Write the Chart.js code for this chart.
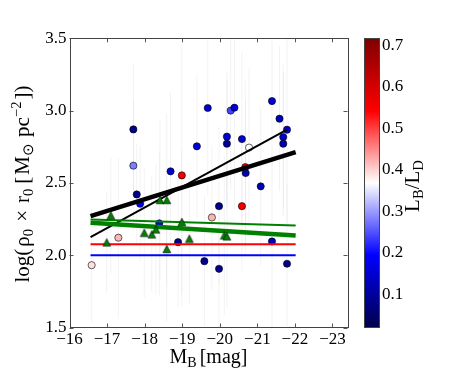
<!DOCTYPE html>
<html>
<head>
<meta charset="utf-8">
<script src="https://cdn.jsdelivr.net/npm/chart.js@4.4.0/dist/chart.umd.min.js"></script>
<style>
  html, body { margin: 0; padding: 0; background: #fff; }
  #wrap { position: relative; width: 463px; height: 386px; overflow: hidden; }
  #main { position: absolute; left: 0; top: 0; }
  #cbar { position: absolute; left: 350px; top: 0; }
</style>
</head>
<body>
<div id="wrap">
  <canvas id="main" width="463" height="386"></canvas>
  <canvas id="cbar" width="113" height="386"></canvas>
</div>
<script>
// ---- data ----
// circles: M_B, log(rho0*r0), L_B/L_D (colour)
const circMag = [-17.70, -17.70, -18.69, -17.79, -17.88, -18.39, -19.68, -20.29, -20.39, -20.19, -20.19,
                 -19.39, -20.59, -20.78, -18.99, -20.68, -20.69, -21.09, -21.39, -21.59, -21.79, -21.69,
                 -21.69, -17.30, -16.59, -18.89, -19.98, -20.59, -19.79, -19.59, -19.98, -21.39, -21.79];
const circLogRho = [2.870, 2.619, 2.580, 2.420, 2.356, 2.220, 3.018, 3.000, 3.020, 2.820, 2.771,
                    2.753, 2.803, 2.744, 2.552, 2.609, 2.568, 2.476, 3.066, 2.944, 2.868, 2.817,
                    2.771, 2.121, 1.931, 2.090, 2.339, 2.339, 2.261, 1.959, 1.906, 2.095, 1.941];
const circRatio = [0.08, 0.28, 0.15, 0.08, 0.18, 0.17, 0.15, 0.24, 0.15, 0.15, 0.10,
                   0.15, 0.15, 0.37, 0.56, 0.58, 0.12, 0.12, 0.15, 0.12, 0.15, 0.15,
                   0.12, 0.42, 0.39, 0.08, 0.08, 0.56, 0.42, 0.08, 0.08, 0.13, 0.08];
const circErr = [0.45, 0.45, 0.55, 0.35, 0.40, 0.50, 0.60, 0.55, 0.70, 0.45, 0.45,
                 0.50, 0.60, 0.55, 0.90, 0.60, 0.50, 0.55, 0.45, 0.50, 0.65, 0.50,
                 0.50, 0.55, 0.40, 0.45, 0.55, 0.45, 0.50, 0.45, 0.40, 0.60, 0.55];
// triangles
const triMag = [-17.10, -16.99, -17.99, -18.19, -18.30, -18.59, -18.41, -18.59, -18.99, -19.19, -20.12, -20.19];
const triLogRho = [2.275, 2.088, 2.155, 2.144, 2.178, 2.043, 2.382, 2.382, 2.230, 2.114, 2.137, 2.130];
const triErr = [0.40, 0.35, 0.45, 0.40, 0.45, 0.50, 0.55, 0.60, 0.50, 0.45, 0.55, 0.50];
// fitted / reference lines (endpoints)
const fitMag = [-16.56, -22.02];
const blackThick = [2.270, 2.713];
const blackThinMag = [-16.56, -21.79];
const blackThin = [2.125, 2.868];
const greenThick = [2.225, 2.137];
const greenThin = [2.247, 2.206];
const redLevel = [2.075, 2.075];
const blueLevel = [2.0, 2.0];
// axes
const xTicks = [-16, -17, -18, -19, -20, -21, -22, -23];
const yTicks = [1.5, 2.0, 2.5, 3.0, 3.5];
const cbTicks = [0.1, 0.2, 0.3, 0.4, 0.5, 0.6, 0.7];
const cbMin = 0.02, cbMax = 0.717;

const seismic = [[0, [0, 0, 77]], [0.25, [0, 0, 255]], [0.5, [255, 255, 255]], [0.75, [255, 0, 0]], [1, [128, 0, 0]]];
function ratioColor(v) {
  let t = (v - cbMin) / (cbMax - cbMin);
  t = Math.max(0, Math.min(1, t));
  for (let i = 0; i < seismic.length - 1; i++) {
    const a = seismic[i], b = seismic[i + 1];
    if (t <= b[0]) {
      const f = (t - a[0]) / (b[0] - a[0]);
      const c = a[1].map((x, k) => Math.round(x + (b[1][k] - x) * f));
      return 'rgb(' + c.join(',') + ')';
    }
  }
  return 'rgb(128,0,0)';
}

function pairs(xs, ys) { return xs.map((x, i) => ({x: x, y: ys[i]})); }

function errSegments(xs, ys, es) {
  const out = [];
  xs.forEach((x, i) => {
    out.push({x: x, y: ys[i] - es[i]});
    out.push({x: x, y: ys[i] + es[i]});
    out.push({x: x, y: null});
  });
  return out;
}

// matplotlib-like '^' marker
const tri = document.createElement('canvas');
tri.width = 10; tri.height = 10;
(function () {
  const c = tri.getContext('2d');
  c.beginPath();
  c.moveTo(5, 1.2); c.lineTo(8.9, 8.8); c.lineTo(1.1, 8.8); c.closePath();
  c.fillStyle = '#008000'; c.fill();
  c.lineWidth = 0.6; c.strokeStyle = '#000'; c.stroke();
})();

const serif = "'Liberation Serif', 'Times New Roman', serif";
Chart.defaults.font.family = serif;

// text with sub/superscripts
function richWidth(ctx, segs, size) {
  let w = 0;
  segs.forEach(s => { ctx.font = (size * (s.s || 1)) + 'px ' + serif; w += ctx.measureText(s.t).width + (s.gap || 0); });
  return w;
}
function drawRich(ctx, segs, cx, cy, size, rot) {
  ctx.save();
  ctx.translate(cx, cy);
  ctx.rotate(rot || 0);
  ctx.fillStyle = '#000';
  ctx.textBaseline = 'alphabetic';
  let x = -richWidth(ctx, segs, size) / 2;
  segs.forEach(s => {
    ctx.font = (size * (s.s || 1)) + 'px ' + serif;
    ctx.fillText(s.t, x, size * 0.33 + size * (s.dy || 0));
    x += ctx.measureText(s.t).width + (s.gap || 0);
  });
  ctx.restore();
}

const boxPlugin = {
  id: 'box',
  afterDraw(chart) {
    const ctx = chart.ctx, a = chart.chartArea;
    const xs = chart.scales.x, ys = chart.scales.y;
    ctx.save();
    ctx.strokeStyle = '#555';
    ctx.lineWidth = 1;
    ctx.beginPath();
    xTicks.forEach(v => {
      const p = Math.round(xs.getPixelForValue(v)) + 0.5;
      ctx.moveTo(p, a.bottom); ctx.lineTo(p, a.bottom - 4);
      ctx.moveTo(p, a.top); ctx.lineTo(p, a.top + 4);
    });
    yTicks.forEach(v => {
      const p = Math.round(ys.getPixelForValue(v)) + 0.5;
      ctx.moveTo(a.left, p); ctx.lineTo(a.left + 4, p);
      ctx.moveTo(a.right, p); ctx.lineTo(a.right - 4, p);
    });
    ctx.stroke();
    ctx.strokeStyle = '#444';
    ctx.strokeRect(Math.round(a.left) + 0.5, Math.round(a.top) + 0.5, Math.round(a.right - a.left), Math.round(a.bottom - a.top));
    // axis titles
    drawRich(ctx, [
      {t: 'M'}, {t: 'B', s: 0.7, dy: 0.2, gap: 3}, {t: '[mag]'}
    ], (a.left + a.right) / 2, 356, 20, 0);
    drawRich(ctx, [
      {t: 'log(', gap: 2}, {t: 'ρ'}, {t: '0', s: 0.7, dy: 0.2, gap: 7}, {t: '×', gap: 7},
      {t: 'r'}, {t: '0', s: 0.7, dy: 0.2, gap: 5}, {t: '[', gap: 2}, {t: 'M'}, {t: '⊙', s: 0.7, dy: 0.2, gap: 6},
      {t: 'pc'}, {t: '−2', s: 0.7, dy: -0.38, gap: 2}, {t: '])'}
    ], 22, 184, 21, -Math.PI / 2);
    ctx.restore();
  }
};

const tickFont = {family: serif, size: 17};

new Chart(document.getElementById('main'), {
  type: 'scatter',
  data: {
    datasets: [
      {data: pairs(triMag, triLogRho), pointStyle: tri, pointRadius: 5},
      {data: pairs(fitMag, greenThin), showLine: true, borderColor: '#008000', borderWidth: 2, pointRadius: 0},
      {data: pairs(fitMag, greenThick), showLine: true, borderColor: '#008000', borderWidth: 4.5, pointRadius: 0},
      {data: pairs(blackThinMag, blackThin), showLine: true, borderColor: '#000', borderWidth: 2, pointRadius: 0},
      {data: pairs(fitMag, blackThick), showLine: true, borderColor: '#000', borderWidth: 4.5, pointRadius: 0},
      {data: pairs(fitMag, redLevel), showLine: true, borderColor: '#ff0000', borderWidth: 2, pointRadius: 0},
      {data: pairs(fitMag, blueLevel), showLine: true, borderColor: '#0000ff', borderWidth: 2, pointRadius: 0},
      {data: pairs(circMag, circLogRho), pointRadius: 3.6, borderWidth: 0.6, borderColor: '#000',
       backgroundColor: circRatio.map(ratioColor)},
      {data: errSegments(circMag.concat(triMag), circLogRho.concat(triLogRho), circErr.concat(triErr)),
       showLine: true, spanGaps: false, borderColor: 'rgba(0,0,0,0.05)', borderWidth: 1, pointRadius: 0}
    ]
  },
  options: {
    responsive: false,
    animation: false,
    devicePixelRatio: 1,
    layout: {padding: {left: 0, top: 38.3, right: 115.5, bottom: 0}},
    plugins: {legend: {display: false}, tooltip: {enabled: false}},
    scales: {
      x: {
        type: 'linear', reverse: true, min: -23.4, max: -16,
        grid: {display: false, drawTicks: false}, border: {display: false},
        afterBuildTicks: s => { s.ticks = xTicks.map(v => ({value: v})); },
        afterFit: s => { s.height = 58.5; },
        ticks: {font: tickFont, color: '#000', padding: 2, maxRotation: 0, autoSkip: false,
                callback: v => (v < 0 ? '\u2212' + Math.abs(v) : String(v))}
      },
      y: {
        type: 'linear', min: 1.5, max: 3.5,
        grid: {display: false, drawTicks: false}, border: {display: false},
        afterBuildTicks: s => { s.ticks = yTicks.map(v => ({value: v})); },
        afterFit: s => { s.width = 69.5; },
        ticks: {font: tickFont, color: '#000', padding: 3, callback: v => v.toFixed(1)}
      }
    }
  },
  plugins: [boxPlugin]
});

// ---- colour bar ----
const cbarPlugin = {
  id: 'cbarBox',
  afterDraw(chart) {
    const ctx = chart.ctx, a = chart.chartArea;
    ctx.save();
    ctx.strokeStyle = '#444';
    ctx.lineWidth = 1;
    ctx.strokeRect(Math.round(a.left) + 0.5, Math.round(a.top) + 0.5, Math.round(a.right - a.left), Math.round(a.bottom - a.top));
    drawRich(ctx, [
      {t: 'L'}, {t: 'B', s: 0.7, dy: 0.2}, {t: '/'}, {t: 'L'}, {t: 'D', s: 0.7, dy: 0.2}
    ], 62, 186, 21, -Math.PI / 2);
    ctx.restore();
  }
};

new Chart(document.getElementById('cbar'), {
  type: 'bar',
  data: {
    labels: ['ratio'],
    datasets: [{
      data: [[cbMin, cbMax]],
      barPercentage: 1, categoryPercentage: 1, borderWidth: 0,
      backgroundColor: ctx => {
        const a = ctx.chart.chartArea;
        if (!a) return '#fff';
        const g = ctx.chart.ctx.createLinearGradient(0, a.bottom, 0, a.top);
        seismic.forEach(s => g.addColorStop(s[0], 'rgb(' + s[1].join(',') + ')'));
        return g;
      }
    }]
  },
  options: {
    responsive: false,
    animation: false,
    devicePixelRatio: 1,
    layout: {padding: {left: 14, top: 38.3, right: 0, bottom: 58.5}},
    plugins: {legend: {display: false}, tooltip: {enabled: false}},
    scales: {
      x: {display: false},
      y: {
        position: 'right', min: cbMin, max: cbMax,
        grid: {display: false, drawTicks: false}, border: {display: false},
        afterBuildTicks: s => { s.ticks = cbTicks.map(v => ({value: v})); },
        afterFit: s => { s.width = 84; },
        ticks: {font: tickFont, color: '#000', padding: 3, callback: v => v.toFixed(1)}
      }
    }
  },
  plugins: [cbarPlugin]
});
</script>
</body>
</html>
